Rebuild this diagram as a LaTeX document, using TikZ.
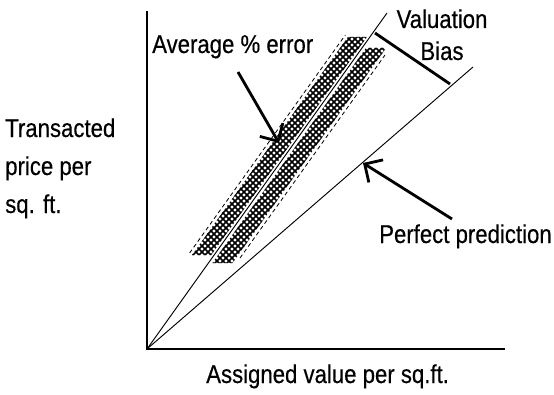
\documentclass[tikz,border=0pt]{standalone}
\usepackage{fontspec}
\setmainfont[FakeStretch=0.86,FakeBold=0.4]{Liberation Sans}
\usetikzlibrary{arrows.meta}
\begin{document}
\begin{tikzpicture}[x=0.3mm,y=-0.3mm,
  lbl/.style={font=\fontsize{22pt}{26pt}\selectfont, inner sep=0pt},
  axisline/.style={line width=1.2pt},
  diag/.style={line width=0.8pt},
  pointer/.style={line width=2.4pt, -{Straight Barb[length=4mm,width=8mm,line width=2.4pt]}},
  biasbar/.style={line width=2.4pt},
  hatchline/.style={line width=1.3pt},
  bandedge/.style={line width=0.7pt, dash pattern=on 3.4pt off 2.6pt}]
\useasboundingbox (0,0) rectangle (554,394);
% axes
\coordinate (O) at (147,349);
\coordinate (Ytop) at (147,11);
\coordinate (Xend) at (505,349);
\draw[axisline] (Ytop) -- (O) -- (Xend);
% diagonal lines
\coordinate (T1) at (387,13);
\coordinate (T2) at (473,67);
% bands (cross-hatched)
\begin{scope}
  \clip (192.1,255) -- (211.1,255) -- (366.9,37) -- (347.9,37) -- cycle
        (212.4,263) -- (232.4,263) -- (386.0,48) -- (366.0,48) -- cycle;
  \foreach \c in {-80,-74,...,360} {\draw[hatchline] (\c,0) -- ++(300,300);}
  \foreach \d in {220,226,...,660} {\draw[hatchline] (\d,0) -- ++(-300,300);}
\end{scope}
\draw[bandedge] (189.6,253) -- (345.3,35);
\draw[bandedge] (240.0,258) -- (385.0,55);
\draw[diag] (O) -- (T1);
\draw[diag] (O) -- (T2);
% labels
\node[lbl, anchor=base west] (avg) at (152,53) {Average \% error};
\node[lbl, anchor=base] (val) at (442,28) {Valuation};
\node[lbl, anchor=base] (bias) at (442,60) {Bias};
\node[lbl, anchor=base west] (perf) at (379,243) {Perfect prediction};
\node[lbl, anchor=base west] (tr1) at (5,137) {Transacted};
\node[lbl, anchor=base west] (tr2) at (5,175) {price per};
\node[lbl, anchor=base west] (tr3) at (5,213) {sq. ft.};
\node[lbl, anchor=base west] (xl) at (206,383) {Assigned value per sq.ft.};
% bias bar
\coordinate (B1) at (375,33);
\coordinate (B2) at (450,84);
\draw[biasbar] (B1) -- (B2);
% pointers
\coordinate (A1s) at (238,72);
\coordinate (A1e) at (279,143);
\draw[pointer] (A1s) -- (A1e);
\coordinate (A2s) at (452,219);
\coordinate (A2e) at (363,163);
\draw[pointer] (A2s) -- (A2e);
\end{tikzpicture}
\end{document}
